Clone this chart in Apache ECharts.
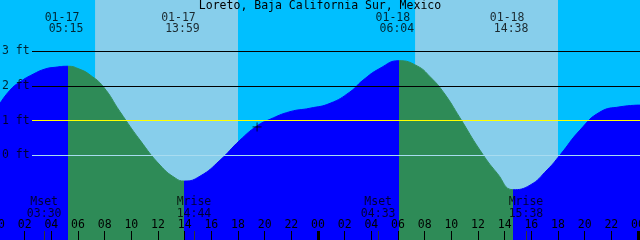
<!DOCTYPE html>
<html>
<head>
<meta charset="utf-8">
<script src="https://cdn.jsdelivr.net/npm/echarts@6/dist/echarts.min.js"></script>
<style>html,body{margin:0;padding:0;background:#00BFFF}#c{width:640px;height:240px}</style>
</head>
<body>
<div id="c"></div>
<script>
// ---- data (hours since 01-17 00:00, feet) ----
const hours = [0.15,0.90,1.65,2.63,3.53,4.28,5.25,6.15,6.90,7.90,9.15,10.65,12.15,13.28,13.98,15.15,16.65,18.15,19.43,20.40,21.90,23.40,24.90,26.40,27.38,28.65,30.07,31.43,32.40,33.45,34.65,36.15,37.45,38.63,39.90,41.18,42.15,43.65,45.15,46.65,48.15];
const heights = [1.50,1.88,2.12,2.34,2.49,2.54,2.57,2.48,2.32,1.98,1.26,0.44,-0.28,-0.65,-0.74,-0.60,-0.14,0.44,0.85,1.04,1.26,1.36,1.50,1.83,2.17,2.51,2.73,2.58,2.27,1.80,1.08,0.15,-0.52,-0.99,-0.86,-0.42,0.01,0.73,1.25,1.40,1.45];
const tideEventHours = [5.25, 13.983, 30.067, 38.633];
const tideEventDates = ['01-17','01-17','01-18','01-18'];
const tideEventTimes = ['05:15','13:59','06:04','14:38'];
const dayStart = [7.28, 31.28];
const dayEnd = [18.0, 42.0];
const moonHours = [3.5, 14.733, 28.55, 39.633];
const moonNames = ['Mset','Mrise','Mset','Mrise'];
const moonTimes = ['03:30','14:44','04:33','15:38'];
const levelValues = [3, 2, 1, 0];
const levelLabels = ['3 ft','2 ft','1 ft','0 ft'];
const levelColors = ['#000000','#000000','#ffff00','#a8dcf0'];
const nowMark = [19.43, 0.82];
const title = 'Loreto, Baja California Sur, Mexico';

const X_MIN = 0, X_MAX = 48.15, Y_MIN = -2.44, Y_MAX = 4.48;
const FONT = 'DejaVu Sans Mono';
const FS = 11.5;
const BLUE = '#0000FF', GREEN = '#2E8B57';

const pad = v => (v < 10 ? '0' : '') + v;
const tide = hours.map((h, i) => [h, heights[i]]);

const pieces = [
  {lt: tideEventHours[0], color: BLUE},
  {gte: tideEventHours[0], lt: tideEventHours[1], color: GREEN},
  {gte: tideEventHours[1], lt: tideEventHours[2], color: BLUE},
  {gte: tideEventHours[2], lt: tideEventHours[3], color: GREEN},
  {gte: tideEventHours[3], color: BLUE}
];

const levelLineStart = 2.55;
const tickTop = -2.18;

const chart = echarts.init(document.getElementById('c'), null, {renderer: 'canvas'});
chart.setOption({
  animation: false,
  backgroundColor: '#00BFFF',
  title: {
    text: title, left: 'center', top: 0, padding: 0,
    textStyle: {fontFamily: FONT, fontSize: FS, fontWeight: 'normal', color: '#000', lineHeight: 12}
  },
  grid: {left: -2, right: 0, top: 0, bottom: 0, containLabel: false, outerBoundsMode: 'none'},
  xAxis: {
    type: 'value', min: X_MIN, max: X_MAX, interval: 2,
    axisLine: {show: false, onZero: false},
    splitLine: {show: false},
    axisTick: {show: true, inside: true, length: 9, lineStyle: {color: '#000', width: 1}},
    axisLabel: {
      inside: true, margin: 9, showMinLabel: true, showMaxLabel: true, hideOverlap: false,
      fontFamily: FONT, fontSize: FS, color: '#000', lineHeight: 12,
      formatter: v => (Math.abs(v - Math.round(v)) < 1e-6 && Math.round(v) % 2 === 0) ? pad(Math.round(v) % 24) : ''
    },
    z: 10
  },
  yAxis: {type: 'value', min: Y_MIN, max: Y_MAX, show: false, splitLine: {show: false}},
  visualMap: {
    type: 'piecewise', show: false, dimension: 0, seriesIndex: 1, pieces: pieces
  },
  series: [
    {
      type: 'line', data: [], z: 1, silent: true,
      markArea: {
        silent: true,
        itemStyle: {color: '#87CEEB', opacity: 1},
        data: dayStart.map((s, i) => [{xAxis: s}, {xAxis: dayEnd[i]}])
      }
    },
    {
      type: 'line', data: tide, z: 2, smooth: 0.5, showSymbol: false, silent: true,
      lineStyle: {width: 1},
      areaStyle: {opacity: 1, origin: 'start'}
    },
    {
      type: 'line', data: [], z: 3, silent: true,
      markLine: {
        silent: true, symbol: 'none', label: {show: false},
        data: levelValues.map((v, i) => [
          {coord: [levelLineStart, v], lineStyle: {color: levelColors[i], width: 1, type: 'solid'}},
          {coord: [X_MAX, v]}
        ]).concat(moonHours.map(h => [
          {coord: [h, Y_MIN], lineStyle: {color: '#333', width: 1, type: 'solid'}},
          {coord: [h, tickTop]}
        ])).concat([24, 48].map(h => [
          {coord: [h, Y_MIN], lineStyle: {color: '#000', width: 3, type: 'solid'}},
          {coord: [h, tickTop]}
        ]))
      }
    },
    {
      type: 'scatter', z: 4, silent: true, symbolSize: 0,
      data: levelValues.map((v, i) => ({value: [0.3, v], name: levelLabels[i]})),
      label: {show: true, position: 'right', distance: 0, formatter: p => p.name,
        fontFamily: FONT, fontSize: FS, color: '#000'}
    },
    {
      type: 'scatter', z: 4, silent: true, symbolSize: 0,
      data: tideEventHours.map((h, i) => ({value: [h, Y_MAX], name: tideEventDates[i]})),
      label: {show: true, position: 'bottom', distance: 12, offset: [-6, 0], formatter: p => p.name,
        fontFamily: FONT, fontSize: FS, color: '#000', lineHeight: 11.5}
    },
    {
      type: 'scatter', z: 4, silent: true, symbolSize: 0,
      data: tideEventHours.map((h, i) => ({value: [h, Y_MAX], name: tideEventTimes[i]})),
      label: {show: true, position: 'bottom', distance: 23.5, offset: [-2, 0], formatter: p => p.name,
        fontFamily: FONT, fontSize: FS, color: '#000', lineHeight: 11.5}
    },
    {
      type: 'scatter', z: 4, silent: true, symbolSize: 0,
      data: moonHours.map((h, i) => ({value: [h, Y_MIN], name: moonNames[i] + '\n' + moonTimes[i]})),
      label: {show: true, position: 'top', distance: 20, offset: [-0.5, 0], formatter: p => p.name,
        fontFamily: FONT, fontSize: FS, color: '#000', lineHeight: 12.3}
    },
    {
      type: 'scatter', z: 5, silent: true, symbol: 'rect',
      itemStyle: {color: '#000'},
      data: [{value: nowMark, symbolSize: [9, 1]}, {value: nowMark, symbolSize: [1, 9]}]
    }
  ]
});
</script>
</body>
</html>
